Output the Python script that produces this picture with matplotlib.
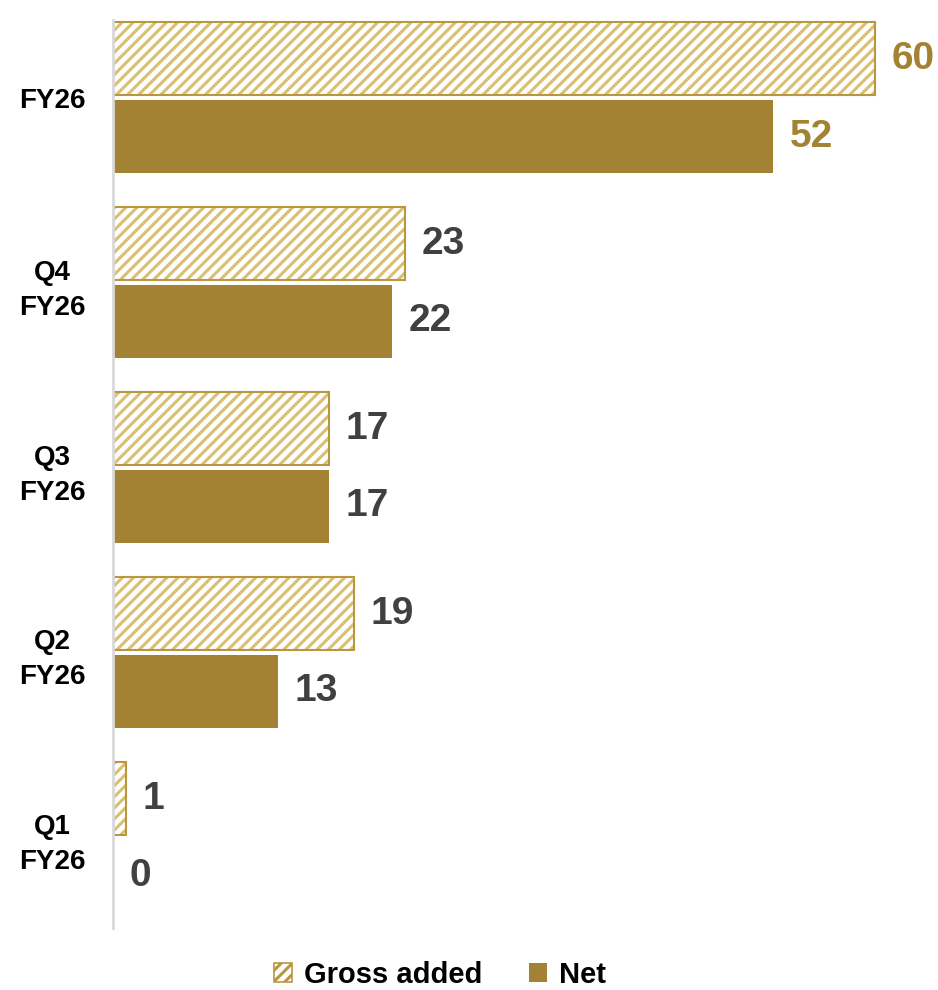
import matplotlib.pyplot as plt
from matplotlib.patches import Patch
import numpy as np

plt.rcParams['font.family'] = ['Liberation Sans', 'DejaVu Sans']
plt.rcParams['hatch.linewidth'] = 2.2

# quarters, bottom to top
categories = ['Q1\nFY26', 'Q2\nFY26', 'Q3\nFY26', 'Q4\nFY26', 'FY26']
gross_added = [1, 19, 17, 23, 60]
net = [0, 13, 17, 22, 52]

gold = '#A38333'
hatch_gold = '#D9BF72'
edge_gold = '#B8973F'
label_grey = '#404040'

fig = plt.figure(figsize=(9.38, 9.9), dpi=100)
ax = fig.add_axes([113 / 938, 62 / 990, 825 / 938, 908 / 990])

y = np.arange(len(categories))
h = 0.395
off = 0.21

# hatched gross bars: hatch layer then outline on top
ax.barh(y + off, gross_added, height=h, color='white', hatch='///',
        edgecolor=hatch_gold, linewidth=0)
ax.barh(y + off, gross_added, height=h, fill=False, edgecolor=edge_gold, linewidth=1.5)
ax.barh(y - off, net, height=h, color=gold, edgecolor='none')

for i in range(len(categories)):
    c = gold if categories[i] == 'FY26' else label_grey
    ax.text(gross_added[i] + 1.3, y[i] + off, str(gross_added[i]), va='center', ha='left',
            fontsize=28, fontweight='bold', color=c)
    ax.text(net[i] + 1.3, y[i] - off, str(net[i]), va='center', ha='left',
            fontsize=28, fontweight='bold', color=c)

ax.set_xlim(0, 825 / 12.7)
ax.set_ylim(-0.49, 4.42)
ax.set_yticks(y)
ax.set_yticklabels(categories, fontsize=20, fontweight='bold', ha='center', linespacing=1.45)
ax.tick_params(axis='y', length=0, pad=44)
ax.set_xticks([])
for s in ['top', 'right', 'bottom']:
    ax.spines[s].set_visible(False)
ax.spines['left'].set_color('#D9D9D9')
ax.spines['left'].set_linewidth(2)

handles = [Patch(facecolor='white', hatch='///', edgecolor=edge_gold, linewidth=1.2),
           Patch(facecolor=gold, edgecolor='none')]
fig.legend(handles, ['Gross added', 'Net'], loc='center', bbox_to_anchor=(440 / 938, 15 / 990),
           ncol=2, frameon=False, prop={'size': 21, 'weight': 'bold'},
           handlelength=0.62, handleheight=0.62, handletextpad=0.4, columnspacing=1.6)

fig.savefig('out.png', dpi=100)
